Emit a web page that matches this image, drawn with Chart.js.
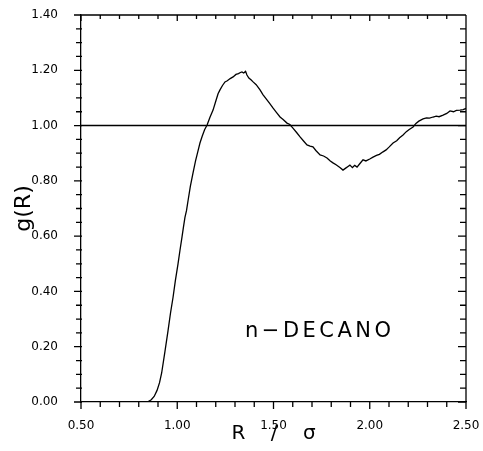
<!DOCTYPE html>
<html>
<head>
<meta charset="utf-8">
<script src="https://cdn.jsdelivr.net/npm/chart.js@4.4.1/dist/chart.umd.min.js"></script>
<style>
  html, body { margin: 0; padding: 0; background: #fff; }
  #wrap { width: 483px; height: 451px; }
</style>
</head>
<body>
<div id="wrap"><canvas id="gChart"></canvas></div>
<script>
// g(R) for n-decane
const rValues = [0.845, 0.865, 0.88, 0.895, 0.908, 0.919, 0.936, 0.952, 0.965, 0.978, 0.99, 1.004, 1.014, 1.025, 1.032, 1.040, 1.048, 1.056, 1.068, 1.082, 1.095, 1.105, 1.118, 1.13, 1.142, 1.155, 1.17, 1.186, 1.2, 1.212, 1.222, 1.235, 1.248, 1.26, 1.275, 1.29, 1.305, 1.318, 1.328, 1.336, 1.345, 1.355, 1.362, 1.372, 1.383, 1.394, 1.41, 1.43, 1.445, 1.466, 1.48, 1.497, 1.515, 1.534, 1.55, 1.570, 1.585, 1.601, 1.62, 1.638, 1.655, 1.674, 1.69, 1.705, 1.72, 1.742, 1.76, 1.778, 1.795, 1.809, 1.825, 1.845, 1.861, 1.875, 1.887, 1.897, 1.91, 1.922, 1.934, 1.948, 1.965, 1.98, 2.0, 2.017, 2.035, 2.05, 2.069, 2.085, 2.1, 2.121, 2.14, 2.155, 2.173, 2.19, 2.205, 2.225, 2.24, 2.255, 2.277, 2.295, 2.31, 2.329, 2.345, 2.36, 2.381, 2.4, 2.417, 2.435, 2.45, 2.469, 2.485, 2.5];
const gValues = [0.0, 0.008, 0.02, 0.042, 0.07, 0.105, 0.182, 0.257, 0.322, 0.378, 0.438, 0.5, 0.548, 0.598, 0.632, 0.668, 0.692, 0.728, 0.78, 0.829, 0.872, 0.90, 0.937, 0.962, 0.985, 1.002, 1.03, 1.056, 1.088, 1.115, 1.129, 1.145, 1.158, 1.162, 1.17, 1.176, 1.185, 1.188, 1.192, 1.194, 1.19, 1.196, 1.183, 1.172, 1.166, 1.158, 1.148, 1.129, 1.112, 1.093, 1.08, 1.064, 1.048, 1.031, 1.022, 1.009, 1.004, 0.991, 0.975, 0.959, 0.945, 0.930, 0.926, 0.923, 0.91, 0.894, 0.89, 0.883, 0.872, 0.865, 0.858, 0.848, 0.839, 0.846, 0.852, 0.857, 0.848, 0.856, 0.850, 0.862, 0.876, 0.872, 0.879, 0.886, 0.892, 0.896, 0.905, 0.912, 0.922, 0.937, 0.945, 0.956, 0.966, 0.978, 0.986, 0.995, 1.008, 1.016, 1.024, 1.028, 1.027, 1.031, 1.034, 1.032, 1.038, 1.044, 1.053, 1.05, 1.055, 1.056, 1.058, 1.062];
const refLineR = [0.5, 2.5];
const refLineG = [1.0, 1.0];
const xMajorStep = 0.5;
const yMajorStep = 0.2;
const labelText = 'n\u2212DECANO';

const FONT = '"DejaVu Sans", sans-serif';

function isMajor(v, step) {
    const q = v / step;
    return Math.abs(q - Math.round(q)) < 1e-6;
}

// frame + inward/outward tick marks, minor ones shorter
const frameTicks = {
    id: 'frameTicks',
    afterDraw(chart) {
        const {ctx, chartArea: a, scales: {x, y}} = chart;
        ctx.save();
        ctx.strokeStyle = '#000';
        ctx.lineWidth = 1.3;
        ctx.beginPath();
        ctx.moveTo(a.left, a.top); ctx.lineTo(a.right, a.top);
        ctx.moveTo(a.right, a.top); ctx.lineTo(a.right, a.bottom);
        x.ticks.forEach(t => {
            const px = x.getPixelForValue(t.value);
            const len = isMajor(t.value, xMajorStep) ? 7 : 5;
            ctx.moveTo(px, a.bottom); ctx.lineTo(px, a.bottom + len);
            ctx.moveTo(px, a.top); ctx.lineTo(px, a.top + len - 1);
        });
        y.ticks.forEach(t => {
            const py = y.getPixelForValue(t.value);
            const len = isMajor(t.value, yMajorStep) ? 7 : 5;
            ctx.moveTo(a.left - len, py); ctx.lineTo(a.left + 1, py);
            ctx.moveTo(a.right, py); ctx.lineTo(a.right - len - 1, py);
        });
        ctx.stroke();

        ctx.fillStyle = '#000';
        ctx.font = '21px ' + FONT;
        ctx.letterSpacing = '3.5px';
        ctx.textAlign = 'left';
        ctx.textBaseline = 'alphabetic';
        ctx.fillText(labelText, 245, 337);
        ctx.restore();
    }
};

new Chart('gChart', {
    type: 'line',
    data: {
        datasets: [{
            label: 'g(R)',
            data: rValues.map((r, i) => ({x: r, y: gValues[i]})),
            borderColor: '#000',
            borderWidth: 1.3,
            pointRadius: 0,
            tension: 0,
            fill: false
        }, {
            label: 'g = 1',
            data: refLineR.map((r, i) => ({x: r, y: refLineG[i]})),
            borderColor: '#000',
            borderWidth: 1.6,
            pointRadius: 0,
            fill: false
        }]
    },
    options: {
        responsive: true,
        maintainAspectRatio: false,
        animation: false,
        layout: {
            padding: {left: 0, right: 17, top: 15, bottom: 0}
        },
        plugins: {
            legend: {display: false},
            tooltip: {enabled: false}
        },
        scales: {
            x: {
                type: 'linear',
                min: 0.5,
                max: 2.5,
                grid: {display: false},
                border: {display: true, color: '#000', width: 1.3},
                ticks: {
                    stepSize: 0.1,
                    autoSkip: false,
                    maxRotation: 0,
                    padding: 9,
                    color: '#000',
                    font: {family: FONT, size: 12},
                    callback: v => isMajor(v, xMajorStep) ? v.toFixed(2) : ''
                },
                title: {
                    display: true,
                    text: 'R    /    \u03c3',
                    color: '#000',
                    font: {family: FONT, size: 20},
                    padding: {top: 0, bottom: 5}
                },
                afterFit: s => { s.height = 49; s.paddingLeft = 0; s.paddingRight = 0; }
            },
            y: {
                type: 'linear',
                min: 0,
                max: 1.4,
                grid: {display: false},
                border: {display: true, color: '#000', width: 1.3},
                ticks: {
                    stepSize: 0.05,
                    autoSkip: false,
                    padding: 15,
                    color: '#000',
                    font: {family: FONT, size: 12},
                    callback: v => isMajor(v, yMajorStep) ? v.toFixed(2) : ''
                },
                title: {
                    display: true,
                    text: 'g(R)',
                    color: '#000',
                    font: {family: FONT, size: 22},
                    padding: {top: 11, bottom: 0}
                },
                afterFit: s => { s.width = 81; s.paddingTop = 0; s.paddingBottom = 0; }
            }
        }
    },
    plugins: [frameTicks]
});
</script>
</body>
</html>
